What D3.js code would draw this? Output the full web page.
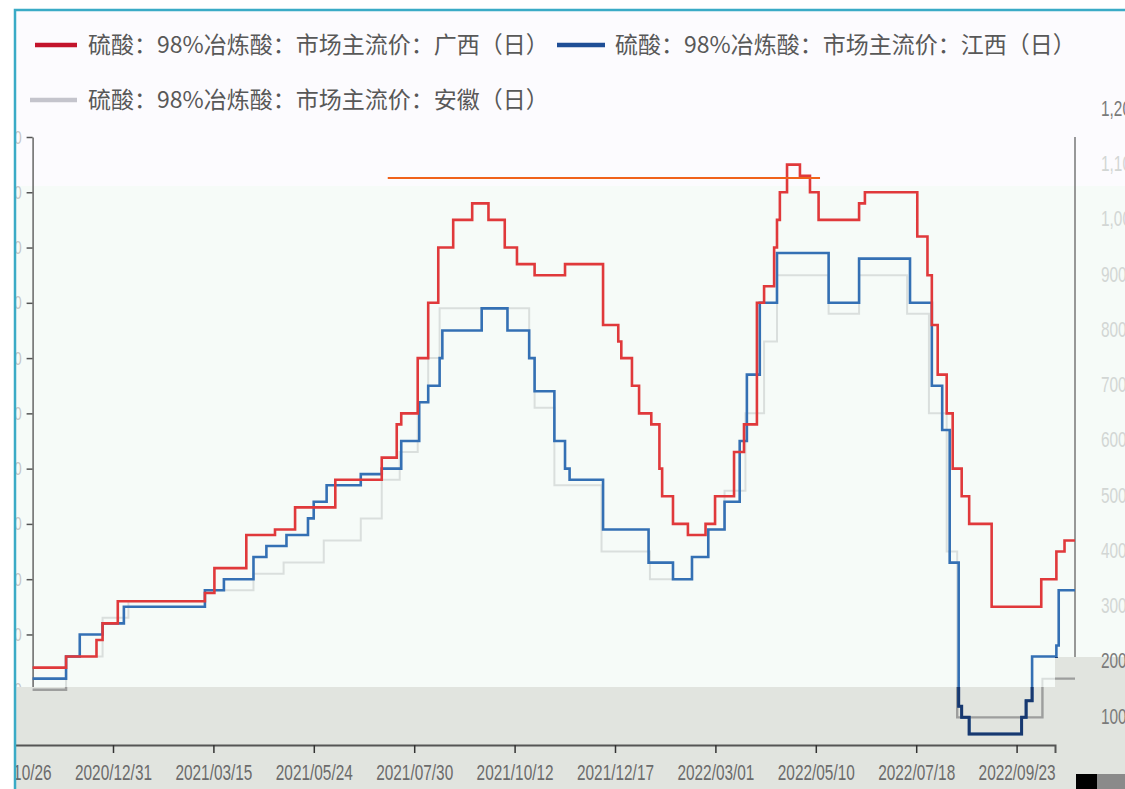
<!DOCTYPE html>
<html><head><meta charset="utf-8">
<script src="https://cdn.jsdelivr.net/npm/d3@7"></script>
<style>body{margin:0;background:#fff;} svg{display:block;}</style>
</head><body>
<svg id="c" width="1125" height="789"></svg>
<script>
// ---------------- data ----------------
const seriesNames = [
  "硫酸：98%冶炼酸：市场主流价：广西（日）",
  "硫酸：98%冶炼酸：市场主流价：江西（日）",
  "硫酸：98%冶炼酸：市场主流价：安徽（日）"
];
const tickLabels = ["2020/10/26","2020/12/31","2021/03/15","2021/05/24","2021/07/30","2021/10/12",
  "2021/12/17","2022/03/01","2022/05/10","2022/07/18","2022/09/23"];
const endDate = "2022/10/26";
const leftTicks = [200,300,400,500,600,700,800,900,1000,1100,1200];
const rightTicks = [100,200,300,400,500,600,700,800,900,1000,1100,1200];

const redDates = ["2020/10/26","2020/11/17","2020/12/07","2020/12/11","2020/12/21","2021/02/22","2021/03/01",
  "2021/03/24","2021/04/13","2021/04/27","2021/05/25","2021/06/25","2021/07/05","2021/07/08","2021/07/19",
  "2021/07/26","2021/08/02","2021/08/13","2021/08/27","2021/09/08","2021/09/20","2021/09/29","2021/10/12",
  "2021/11/01","2021/11/26","2021/12/06","2021/12/08","2021/12/15","2021/12/20","2021/12/29","2022/01/04",
  "2022/01/06","2022/01/14","2022/01/25","2022/02/07","2022/02/14","2022/02/28","2022/03/07","2022/03/16",
  "2022/03/21","2022/03/28","2022/03/30","2022/04/01","2022/04/06","2022/04/15","2022/04/22","2022/04/28",
  "2022/05/26","2022/05/30","2022/07/05","2022/07/12","2022/07/15","2022/07/19","2022/07/25","2022/07/29",
  "2022/08/04","2022/08/09","2022/08/24","2022/09/27","2022/10/10","2022/10/17"];
const redValues = [240,260,290,320,360,375,420,
  480,490,530,580,620,680,700,800,
  900,1000,1050,1080,1050,1000,970,950,
  970,860,830,800,750,700,680,600,
  550,500,480,500,550,630,680,900,
  930,1000,1050,1100,1150,1130,1100,1050,
  1080,1100,1020,950,860,770,700,600,
  550,500,350,400,450,470];

const blueDates = ["2020/10/26","2020/11/17","2020/11/26","2020/12/11","2020/12/25","2021/02/22","2021/03/08",
  "2021/03/29","2021/04/07","2021/04/21","2021/05/06","2021/05/10","2021/05/19","2021/06/11","2021/06/25",
  "2021/07/08","2021/07/20","2021/07/26","2021/08/03","2021/08/05","2021/09/03","2021/09/22","2021/10/08",
  "2021/10/12","2021/10/25","2021/11/01","2021/11/04","2021/11/26","2021/12/27","2022/01/14","2022/01/28",
  "2022/02/09","2022/02/21","2022/03/04","2022/03/09","2022/03/18","2022/03/30","2022/05/05","2022/05/26",
  "2022/06/30","2022/07/15","2022/07/22","2022/07/27","2022/08/02","2022/08/04","2022/08/09","2022/09/13",
  "2022/09/16","2022/09/20","2022/10/10","2022/10/12"];
const blueValues = [220,260,300,320,350,380,400,
  440,460,480,510,540,570,590,600,
  650,720,750,800,850,890,850,800,
  740,650,600,580,490,430,400,440,
  490,540,650,770,900,990,900,980,
  900,750,670,430,170,150,120,150,
  180,260,280,380];

const grayDates = ["2020/10/26","2020/11/17","2020/12/11","2020/12/28","2021/02/22","2021/03/29","2021/04/19",
  "2021/05/17","2021/06/11","2021/06/25","2021/07/07","2021/07/19","2021/07/26","2021/08/03","2021/10/08",
  "2021/10/12","2021/10/25","2021/11/25","2021/12/28","2022/01/28","2022/02/09","2022/02/21","2022/03/08",
  "2022/03/21","2022/03/30","2022/05/05","2022/05/26","2022/06/28","2022/07/13","2022/07/25","2022/08/01",
  "2022/09/28"];
const grayValues = [200,260,330,360,380,410,430,
  470,510,580,630,720,800,890,800,
  710,570,450,400,440,490,560,700,
  830,950,880,950,880,700,450,150,
  220];

const markLineDates = ["2021/06/29","2022/04/29"];
const markLineValue = 1126;

// ---------------- layout ----------------
const svg = d3.select("#c");
const W = 1125, H = 789;
const plotLeft = 32.6, tickStep = 100.4, plotRight = 1075;
const plotTop = 137, xAxisY = 745;
const axisShift = -20;   // the date axis sits slightly left of the plot
const bandTop = 687, bandTopRight = 657, bandSplit = 1055;
const numFont = "'Liberation Sans',Arial,sans-serif";
const squeeze = 0.7;     // condensed look of the numeric labels

const parse = d3.timeParse("%Y/%m/%d");
const fmt = d3.timeFormat("%Y/%m/%d");
const tickDates = tickLabels.map(parse);
const x = d3.scaleTime()
  .domain(tickDates.concat([parse(endDate)]))
  .range(tickDates.map((d, i) => plotLeft + i * tickStep).concat([plotRight]));
const y = d3.scaleLinear().domain([100, 1200]).range([xAxisY, plotTop]);
const yRight = d3.scaleLinear().domain([100, 1200]).range([xAxisY - 29, plotTop - 29]);

// backgrounds
svg.append("rect").attr("x", 15).attr("y", 10).attr("width", W - 15).attr("height", 176).attr("fill", "#fcfbfe");
svg.append("rect").attr("x", 15).attr("y", 186).attr("width", W - 15).attr("height", H - 186).attr("fill", "#f6fbf8");

// left axis
const gL = svg.append("g").attr("transform", `translate(${plotLeft},0)`)
  .call(d3.axisLeft(y).tickValues(leftTicks).tickSize(6).tickSizeOuter(0).tickFormat(d3.format(",")));
gL.select(".domain").attr("stroke", "#666").attr("stroke-width", 1.5);
gL.selectAll(".tick line").attr("stroke", "#555").attr("stroke-width", 1.5);
gL.selectAll(".tick text").attr("x", -11 / squeeze).attr("fill", "#c4c4c4")
  .attr("transform", `scale(${squeeze},1)`)
  .style("font-family", numFont).style("font-size", "19px");

// right axis line
svg.append("line").attr("x1", plotRight).attr("x2", plotRight).attr("y1", y(1200)).attr("y2", xAxisY)
  .attr("stroke", "#777").attr("stroke-width", 1.5);

// gray band at the bottom
const bandPath = `M15,${bandTop}H${bandSplit}V${bandTopRight}H${W}V${H}H15Z`;
svg.append("path").attr("d", bandPath).attr("fill", "#e1e4df");
svg.append("clipPath").attr("id", "bandClip").append("path").attr("d", bandPath);

// right labels
svg.append("g").selectAll("text").data(rightTicks).join("text")
  .attr("transform", d => `translate(1101,${yRight(d)}) scale(${squeeze},1)`)
  .attr("dy", "0.35em")
  .attr("fill", d => (yRight(d) < 130 || yRight(d) > 640) ? "#7a7a7a" : "#d2d6d4")
  .style("font-family", numFont).style("font-size", "22px")
  .text(d => d3.format(",")(d));

// series lines
const series = [
  {dates: grayDates, values: grayValues, color: "#dadfdd", band: "#9d9e9d", width: 2},
  {dates: blueDates, values: blueValues, color: "#3470b4", band: "#17386f", width: 2.6},
  {dates: redDates, values: redValues, color: "#e0393b", band: "#e0393b", width: 2.6}
];
const end = parse(endDate);
const line = d3.line().curve(d3.curveStepAfter).x(d => x(d[0])).y(d => y(d[1]));
series.forEach(s => {
  const pts = s.dates.map((d, i) => [parse(d), s.values[i]]);
  pts.push([end, s.values[s.values.length - 1]]);
  svg.append("path").datum(pts).attr("d", line)
    .attr("fill", "none").attr("stroke", s.color).attr("stroke-width", s.width);
  svg.append("path").datum(pts).attr("d", line).attr("clip-path", "url(#bandClip)")
    .attr("fill", "none").attr("stroke", s.band).attr("stroke-width", s.width + 0.4);
});

// horizontal mark line
svg.append("line")
  .attr("x1", x(parse(markLineDates[0]))).attr("x2", x(parse(markLineDates[1])))
  .attr("y1", y(markLineValue)).attr("y2", y(markLineValue))
  .attr("stroke", "#f0621a").attr("stroke-width", 2);

// x axis
const gX = svg.append("g").attr("transform", `translate(${axisShift},${xAxisY})`)
  .call(d3.axisBottom(x).tickValues(tickDates).tickFormat(fmt).tickSize(8).tickSizeOuter(8));
gX.select(".domain").attr("stroke", "#555").attr("stroke-width", 2);
gX.selectAll(".tick line").attr("stroke", "#333").attr("stroke-width", 1.5);
gX.selectAll(".tick text").attr("fill", "#6b6b6b").attr("y", 19)
  .attr("transform", `scale(${squeeze},1)`)
  .style("font-family", numFont).style("font-size", "22px");

// legend
const legendItems = [
  {name: seriesNames[0], color: "#c3142c", x1: 35, x2: 77, tx: 88, y: 45},
  {name: seriesNames[1], color: "#1f4e96", x1: 557, x2: 605, tx: 615, y: 45},
  {name: seriesNames[2], color: "#c4c4cc", x1: 30, x2: 77, tx: 88, y: 100}
];
const lg = svg.append("g");
legendItems.forEach(it => {
  lg.append("line").attr("x1", it.x1).attr("x2", it.x2).attr("y1", it.y).attr("y2", it.y)
    .attr("stroke", it.color).attr("stroke-width", 4.5);
  lg.append("text").attr("x", it.tx).attr("y", it.y).attr("dy", "0.36em")
    .attr("fill", "#585858")
    .style("font-family", "'Noto Sans CJK SC',sans-serif").style("font-size", "23px")
    .text(it.name);
});

// frame: white margin, teal border
svg.append("rect").attr("x", 0).attr("y", 0).attr("width", 14).attr("height", H).attr("fill", "#fff");
svg.append("rect").attr("x", 0).attr("y", 0).attr("width", W).attr("height", 9).attr("fill", "#fff");
svg.append("path").attr("d", `M15,${H}V10H${W}`).attr("fill", "none").attr("stroke", "#3aabc6").attr("stroke-width", 2.5);

// bottom-right corner blocks
svg.append("rect").attr("x", 1076).attr("y", 774).attr("width", 21).attr("height", 15).attr("fill", "#000");
svg.append("rect").attr("x", 1097).attr("y", 774).attr("width", 28).attr("height", 15).attr("fill", "#8a8a8a");
</script>
</body></html>
